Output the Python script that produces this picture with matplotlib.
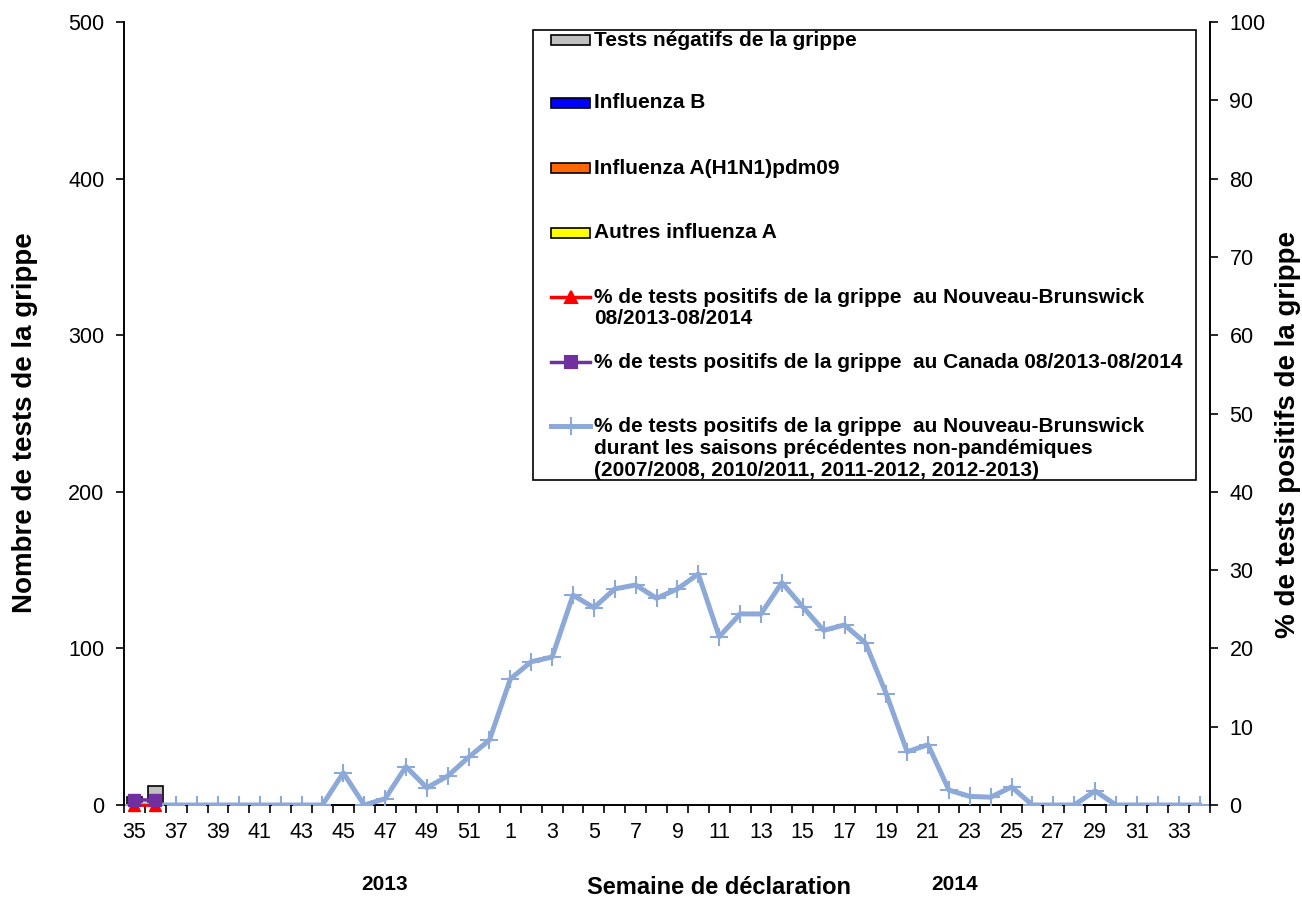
import numpy as np
import matplotlib
matplotlib.use("Agg")
import matplotlib.pyplot as plt
from matplotlib.patches import Rectangle
from matplotlib.lines import Line2D

plt.rcParams['font.family'] = ['Liberation Sans', 'DejaVu Sans']

# semaines de déclaration 35/2013 -> 34/2014
weeks = list(range(35, 53)) + list(range(1, 35))

# nombre de tests (seules les semaines 35 et 36 sont disponibles)
tests_negatifs = [5, 12] + [np.nan] * 50
influenza_b = [0, 0] + [np.nan] * 50
h1n1 = [0, 0] + [np.nan] * 50
autres_a = [0, 0] + [np.nan] * 50

# % de tests positifs
pct_nb = [0, 0] + [np.nan] * 50
pct_canada = [0.7, 0.6] + [np.nan] * 50
pct_nb_precedentes = [0, 0, 0, 0, 0, 0, 0, 0, 0, 0,
                      4.1, 0, 0.8, 4.9, 2.2, 3.7, 6.1, 8.3,
                      16.1, 18.3, 18.9, 26.8, 25.2, 27.6, 28.1, 26.4, 27.6, 29.5,
                      21.5, 24.4, 24.4, 28.4, 25.3, 22.3, 23.0, 20.7, 14.2, 6.8,
                      7.7, 1.9, 1.1, 1.0, 2.3, 0, 0, 0, 1.8, 0, 0, 0, 0, 0]

C_NEG = '#C0C0C0'
C_B = '#0000FF'
C_H1N1 = '#FF6600'
C_AUTRES = '#FFFF00'
C_NB = '#FF0000'
C_CAN = '#7030A0'
C_PREC = '#8DA9D8'

W, H = 1302, 900
fig = plt.figure(figsize=(W / 100, H / 100), dpi=100)
ax = fig.add_axes([124 / W, 95 / H, 1086 / W, 783 / H])
ax2 = ax.twinx()

x = np.arange(len(weeks))
bw = 0.7
bottom = np.zeros(len(weeks))
for vals, col in [(autres_a, C_AUTRES), (h1n1, C_H1N1), (influenza_b, C_B), (tests_negatifs, C_NEG)]:
    v = np.array(vals, dtype=float)
    ax.bar(x, v, bw, bottom=bottom, color=col, edgecolor='black', linewidth=1.2)
    bottom = bottom + np.nan_to_num(v)

ax2.plot(x, pct_nb_precedentes, color=C_PREC, lw=3.6, marker='+', ms=13, mew=1.5, zorder=3)
ax2.plot(x, pct_nb, color=C_NB, lw=2, marker='^', ms=8, zorder=4, clip_on=False)
ax2.plot(x, pct_canada, color=C_CAN, lw=2.5, marker='s', ms=8, zorder=5, clip_on=False)

ax.set_xlim(-0.5, len(weeks) - 0.5)
ax.set_ylim(0, 500)
ax2.set_ylim(0, 100)
ax.set_yticks(range(0, 501, 100))
ax2.set_yticks(range(0, 101, 10))

ax.set_xticks(x[::2])
ax.set_xticklabels([str(w) for w in weeks[::2]])
ax.set_xticks(np.arange(-0.5, len(weeks), 1), minor=True)
ax.tick_params(axis='x', which='major', length=0, labelsize=15.5, pad=12)
ax.tick_params(axis='x', which='minor', length=6, width=1.2, direction='out')
ax.tick_params(axis='y', length=6, width=1.2, direction='out', labelsize=15.5, pad=8)
ax2.tick_params(axis='y', length=6, width=1.2, direction='out', labelsize=15.5, pad=8)

for a in (ax, ax2):
    a.spines['top'].set_visible(False)
    for s in ('left', 'right', 'bottom'):
        a.spines[s].set_linewidth(1.2)

def fx(px):
    return px / W

def fy(py):
    return 1 - py / H

fig.text(fx(25), fy(423), 'Nombre de tests de la grippe', rotation=90, ha='center', va='center',
         fontsize=20, fontweight='bold')
fig.text(fx(1288), fy(435), '% de tests positifs de la grippe', rotation=90, ha='center', va='center',
         fontsize=20, fontweight='bold')
fig.text(fx(719), fy(887), 'Semaine de déclaration', ha='center', va='center', fontsize=17, fontweight='bold')
fig.text(fx(385), fy(885), '2013', ha='center', va='center', fontsize=15, fontweight='bold')
fig.text(fx(955), fy(885), '2014', ha='center', va='center', fontsize=15, fontweight='bold')

# légende
fig.patches.append(Rectangle((fx(533), fy(480)), fx(1196) - fx(533), fy(30) - fy(480),
                             transform=fig.transFigure, facecolor='white', edgecolor='black',
                             linewidth=1.2, zorder=10))
entries = [
    ('bar', C_NEG, None, ['Tests négatifs de la grippe'], 40),
    ('bar', C_B, None, ['Influenza B'], 103),
    ('bar', C_H1N1, None, ['Influenza A(H1N1)pdm09'], 168),
    ('bar', C_AUTRES, None, ['Autres influenza A'], 233),
    ('line', C_NB, '^', ['% de tests positifs de la grippe  au Nouveau-Brunswick', '08/2013-08/2014'], 297),
    ('line', C_CAN, 's', ['% de tests positifs de la grippe  au Canada 08/2013-08/2014'], 362),
    ('line', C_PREC, '+', ['% de tests positifs de la grippe  au Nouveau-Brunswick',
                           'durant les saisons précédentes non-pandémiques',
                           '(2007/2008, 2010/2011, 2011-2012, 2012-2013)'], 426),
]
for kind, col, mk, lines, y in entries:
    if kind == 'bar':
        fig.patches.append(Rectangle((fx(551), fy(y + 5)), fx(590) - fx(551), fy(y - 5) - fy(y + 5),
                                     transform=fig.transFigure, facecolor=col, edgecolor='black',
                                     linewidth=1.2, zorder=11))
    else:
        lw = 3.6 if mk == '+' else 2.5
        fig.lines.append(Line2D([fx(551), fx(590)], [fy(y), fy(y)], transform=fig.transFigure,
                                color=col, lw=lw, zorder=11))
        fig.lines.append(Line2D([fx(570.5)], [fy(y)], transform=fig.transFigure, color=col,
                                marker=mk, ms=13 if mk == '+' else 8, mew=1.5, zorder=12))
    for k, t in enumerate(lines):
        fig.text(fx(594), fy(y + 22 * k), t, ha='left', va='center', fontsize=15,
                 fontweight='bold', zorder=12)

fig.savefig('out.png', dpi=100)
